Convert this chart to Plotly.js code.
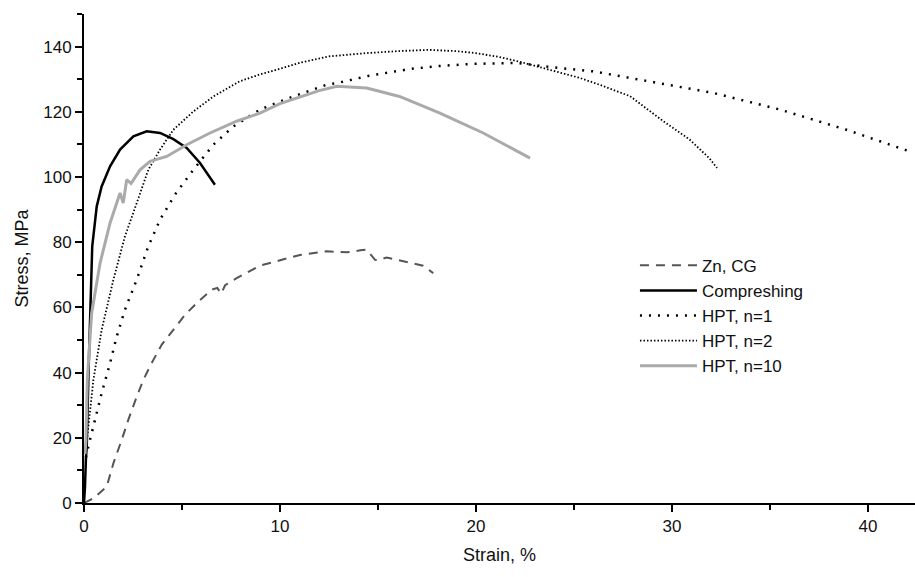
<!DOCTYPE html>
<html>
<head>
<meta charset="utf-8">
<script src="https://cdn.plot.ly/plotly-3.0.1.min.js"></script>
<style>html,body{margin:0;padding:0;background:#fff;}#chart{width:915px;height:577px;}</style>
</head>
<body>
<div id="chart"></div>
<script>
// Zn, CG
var znX = [0, 0.5, 1.16, 1.5, 1.92, 2.26, 2.69, 3.03, 3.45, 3.96, 4.56, 5.15, 5.83, 6.51, 6.8, 7.0, 7.2, 7.79, 8.98, 10, 11.02, 12.38, 13.4, 14.1, 14.42, 14.85, 15.0, 15.44, 16.46, 17.3, 17.82];
var znY = [0, 1.5, 5, 12.2, 19.3, 25.5, 32.6, 37.8, 42.9, 48.5, 53.1, 57.7, 61.8, 65.4, 66, 64.2, 66.8, 69, 72.8, 74.4, 76.1, 77.2, 76.9, 77.5, 77.7, 74.6, 74.5, 75.3, 73.9, 72.8, 70.5];
// Compreshing
var compX = [0, 0.05, 0.1, 0.14, 0.22, 0.31, 0.42, 0.65, 0.9, 1.33, 1.84, 2.52, 3.2, 3.88, 4.56, 5.24, 5.92, 6.68];
var compY = [0, 5, 14, 17.3, 37.8, 58.2, 78.7, 91, 97.1, 103.3, 108.4, 112.5, 114, 113.5, 111.6, 108.9, 104.3, 97.6];
// HPT, n=1
var n1X = [0.1, 0.22, 0.56, 0.9, 1.33, 1.67, 2.09, 2.69, 3.28, 3.88, 4.64, 5.58, 6.6, 7.62, 8.98, 10.68, 12.38, 12.9, 14.5, 16.6, 18, 19.86, 22.08, 24, 26, 28.7, 32.1, 35.5, 38.9, 42.1];
var n1Y = [14, 17.3, 25.5, 33.7, 42.9, 51.1, 59.3, 68.5, 78.7, 86.9, 94.6, 102.2, 109.9, 115.5, 120.7, 124.7, 128.3, 128.8, 131, 133.1, 134, 134.7, 135, 133.6, 132.4, 129.4, 125.8, 120.7, 114.5, 107.9];
// HPT, n=2
var n2X = [0.1, 0.15, 0.48, 0.9, 1.5, 2.09, 2.69, 3.28, 3.88, 4.56, 5.58, 6.6, 7.96, 9, 10, 11, 12.5, 14.4, 16, 17.6, 19, 20, 21.2, 22.2, 24.3, 25.3, 26.3, 27.86, 29.56, 30.9, 31.9, 32.3];
var n2Y = [15, 19.3, 37.8, 53.1, 68.5, 81.8, 92, 102.2, 108.4, 114.5, 120.1, 124.7, 129.4, 131.5, 133.2, 135, 137, 138, 138.6, 139, 138.6, 138, 136.8, 135.4, 132, 130.4, 128.3, 124.8, 117.1, 111.5, 105.8, 102.8];
// HPT, n=10
var n10X = [0.05, 0.1, 0.17, 0.39, 0.82, 1.33, 1.84, 2.0, 2.18, 2.4, 2.86, 3.37, 4.22, 5.24, 6.43, 7.79, 8.98, 10, 11, 12, 12.9, 14.42, 16.1, 18.16, 20.37, 22.76];
var n10Y = [15, 19.3, 37.8, 58.2, 73.6, 85.9, 95.1, 92, 99.2, 98, 102.2, 104.8, 106.3, 109.9, 113.5, 117.1, 119.6, 122.5, 124.5, 126.5, 127.8, 127.3, 124.7, 119.6, 113.5, 105.8];

var names = ['Zn, CG', 'Compreshing', 'HPT, n=1', 'HPT, n=2', 'HPT, n=10'];

var traces = [
  {x: znX, y: znY, name: names[0], mode: 'lines', line: {color: '#555555', width: 2, dash: '9px,7px'}},
  {x: compX, y: compY, name: names[1], mode: 'lines', line: {color: '#000000', width: 2.5}},
  {x: n1X, y: n1Y, name: names[2], mode: 'lines', line: {color: '#000000', width: 2.5, dash: '2px,7px'}},
  {x: n2X, y: n2Y, name: names[3], mode: 'lines', line: {color: '#000000', width: 1.8, dash: '1.5px,2px'}},
  {x: n10X, y: n10Y, name: names[4], mode: 'lines', line: {color: '#aaaaaa', width: 3}}
];

var fontFam = 'Liberation Sans, Arial, sans-serif';
var layout = {
  width: 915, height: 577,
  margin: {l: 84, r: 0, t: 14, b: 74},
  paper_bgcolor: '#ffffff', plot_bgcolor: '#ffffff',
  font: {family: fontFam, size: 17, color: '#111'},
  showlegend: true,
  legend: {x: 0.663, y: 0.522, xanchor: 'left', yanchor: 'top', bgcolor: 'rgba(0,0,0,0)', itemwidth: 57, font: {family: fontFam, size: 17, color: '#111'}, tracegroupgap: 0},
  xaxis: {
    range: [0, 42.4], showgrid: false, zeroline: false, showline: true, linecolor: '#000', linewidth: 2,
    ticks: 'outside', ticklen: 7, tickwidth: 2, tickcolor: '#000', dtick: 10, tick0: 0,
    minor: {dtick: 5, ticks: 'outside', ticklen: 5, tickwidth: 2, tickcolor: '#000', showgrid: false},
    tickfont: {family: fontFam, size: 17, color: '#111'},
    title: {text: 'Strain, %', font: {family: fontFam, size: 18, color: '#111'}, standoff: 13}
  },
  yaxis: {
    range: [0, 150], showgrid: false, zeroline: false, showline: true, linecolor: '#000', linewidth: 2,
    ticks: 'outside', ticklen: 7, tickwidth: 2, tickcolor: '#000', dtick: 20, tick0: 0,
    minor: {dtick: 10, ticks: 'outside', ticklen: 5, tickwidth: 2, tickcolor: '#000', showgrid: false},
    tickfont: {family: fontFam, size: 17, color: '#111'},
    title: {text: 'Stress, MPa', font: {family: fontFam, size: 18, color: '#111'}, standoff: 10}
  }
};

Plotly.newPlot('chart', traces, layout, {staticPlot: true, displayModeBar: false});
</script>
</body>
</html>
